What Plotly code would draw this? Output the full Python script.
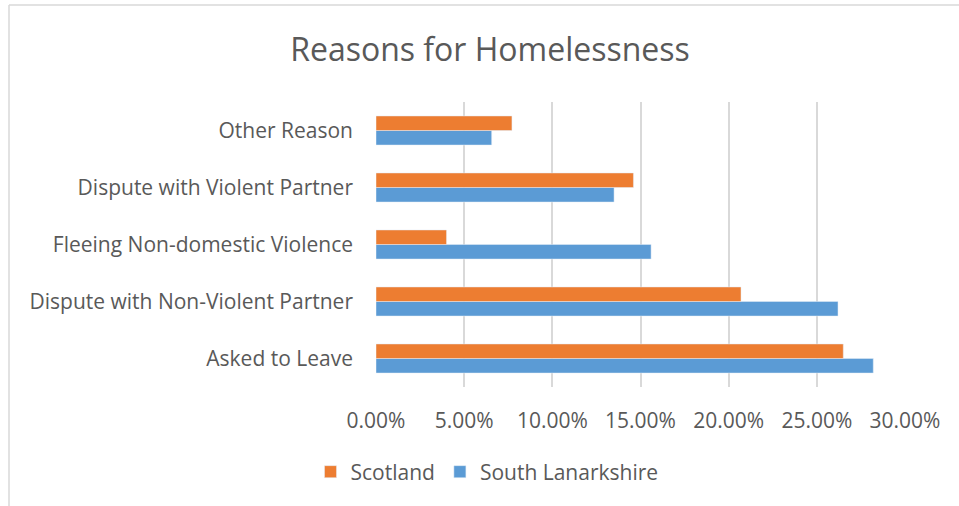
import plotly.graph_objects as go

categories = ["Asked to Leave", "Dispute with Non-Violent Partner", "Fleeing Non-domestic Violence",
              "Dispute with Violent Partner", "Other Reason"]
south_lanarkshire = [0.282, 0.262, 0.156, 0.135, 0.0656]
scotland = [0.265, 0.207, 0.040, 0.146, 0.0771]
x_ticks = [0, 0.05, 0.10, 0.15, 0.20, 0.25, 0.30]

FONT = "Open Sans"
GREY = "#595959"
FS = 21

fig = go.Figure()
fig.add_trace(go.Bar(y=categories, x=south_lanarkshire, name="South Lanarkshire", orientation="h",
                     marker=dict(color="#5B9BD5")))
fig.add_trace(go.Bar(y=categories, x=scotland, name="Scotland", orientation="h",
                     marker=dict(color="#ED7D31")))

L, R, T, B = 376, 905, 102, 387
W, H = 959, 506
pw, ph = R - L, B - T

def px(x):
    return (x - L) / pw

def py(y):
    return (B - y) / ph

fig.update_layout(
    width=W, height=H,
    margin=dict(l=L, r=W - R, t=T, b=H - B, pad=0),
    paper_bgcolor="white", plot_bgcolor="white",
    barmode="group", bargap=0.49, bargroupgap=0,
    title=dict(text="Reasons for Homelessness", x=px(490), xref="paper", xanchor="center",
               y=1 - 50 / H, yanchor="middle", font=dict(family=FONT, size=32, color=GREY)),
    font=dict(family=FONT, color=GREY, size=FS),
    xaxis=dict(range=[0, 0.30], tickvals=x_ticks, tickformat=".2%", showgrid=True,
               gridcolor="#D9D9D9", gridwidth=1.5, zeroline=False, showline=False,
               ticks="", ticklabelstandoff=19, tickfont=dict(family=FONT, size=FS, color=GREY),
               fixedrange=True),
    yaxis=dict(showgrid=False, zeroline=False, showline=False, ticks="", ticklabelstandoff=22,
               tickfont=dict(family=FONT, size=FS, color=GREY), fixedrange=True),
    legend=dict(orientation="h", x=px(487), xanchor="center", y=py(472), yanchor="middle",
                traceorder="reversed", font=dict(family=FONT, size=FS, color=GREY),
                itemwidth=30, bgcolor="rgba(0,0,0,0)"),
    showlegend=True,
    shapes=[
        dict(type="line", xref="paper", yref="paper", x0=px(9), x1=px(9), y0=py(5), y1=py(506),
             line=dict(color="#D9D9D9", width=1.5)),
        dict(type="line", xref="paper", yref="paper", x0=px(9), x1=px(959), y0=py(5), y1=py(5),
             line=dict(color="#D9D9D9", width=1.5)),
    ],
)

fig.write_html("out.html")
